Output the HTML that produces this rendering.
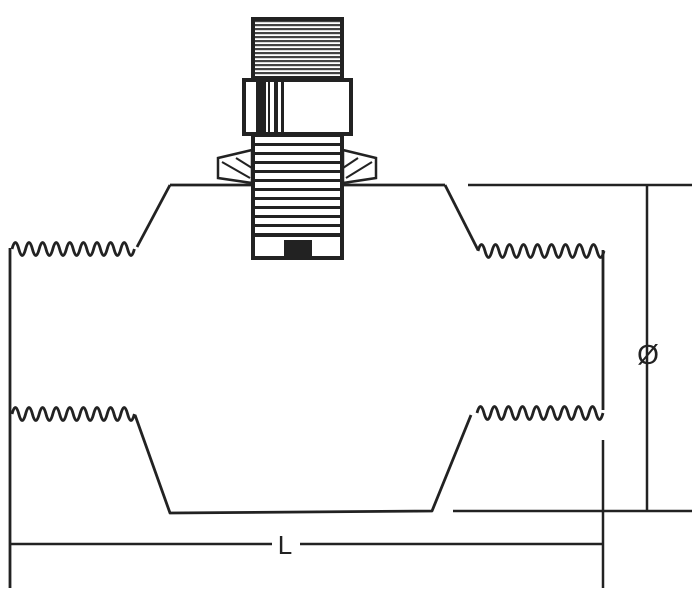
<!DOCTYPE html>
<html><head><meta charset="utf-8"><style>
html,body{margin:0;padding:0;background:#fff;}
svg{display:block;}
</style></head><body>
<svg width="695" height="589" viewBox="0 0 695 589" xmlns="http://www.w3.org/2000/svg">
<defs>
<pattern id="hatch" width="6" height="4" patternUnits="userSpaceOnUse">
<rect width="6" height="4" fill="#fff"/>
<rect y="0" width="6" height="2.2" fill="#444"/>
</pattern>
</defs>
<g fill="none" stroke="#222" stroke-width="2.8" stroke-linejoin="round">
<path d="M170 185 L445 185"/>
<path d="M170 185 L137 247"/>
<path d="M445 185 L478 250"/>
<path d="M12 249 q3.4 -13 6.8 0 t6.8 0 t6.8 0 t6.8 0 t6.8 0 t6.8 0 t6.8 0 t6.8 0 t6.8 0 t6.8 0 t6.8 0 t6.8 0 t6.8 0 t6.8 0 t6.8 0 t6.8 0 t6.8 0 t6.8 0"/>
<path d="M478 251 q3.5 -13 7 0 t7 0 t7 0 t7 0 t7 0 t7 0 t7 0 t7 0 t7 0 t7 0 t7 0 t7 0 t7 0 t7 0 t7 0 t7 0 t7 0 t7 0"/>
<path d="M12 414 q3.4 -13 6.8 0 t6.8 0 t6.8 0 t6.8 0 t6.8 0 t6.8 0 t6.8 0 t6.8 0 t6.8 0 t6.8 0 t6.8 0 t6.8 0 t6.8 0 t6.8 0 t6.8 0 t6.8 0 t6.8 0 t6.8 0"/>
<path d="M477 413 q3.5 -13 7 0 t7 0 t7 0 t7 0 t7 0 t7 0 t7 0 t7 0 t7 0 t7 0 t7 0 t7 0 t7 0 t7 0 t7 0 t7 0 t7 0 t7 0"/>
<path d="M135 415 L170 513 L432 511 L471 415"/>
<path d="M10 248 L10 588"/>
<path d="M603 250 L603 410"/>
</g>
<g stroke="#222" stroke-width="2.5">
<line x1="603" y1="440" x2="603" y2="588"/>
<line x1="468" y1="185" x2="692" y2="185"/>
<line x1="453" y1="511" x2="692" y2="511"/>
<line x1="647" y1="185" x2="647" y2="511"/>
<line x1="10" y1="544" x2="272" y2="544"/>
<line x1="300" y1="544" x2="603" y2="544"/>
</g>
<text x="285" y="554" font-family="Liberation Sans, sans-serif" font-size="26" text-anchor="middle" fill="#222">L</text>
<text x="648" y="364" font-family="Liberation Sans, sans-serif" font-size="28" text-anchor="middle" fill="#222">Ø</text>
<polygon points="218,158 252,150 252,183 218,178" fill="#fff" stroke="#222" stroke-width="2.5"/>
<polygon points="376,158 343,150 343,183 376,178" fill="#fff" stroke="#222" stroke-width="2.5"/>
<g stroke="#222" stroke-width="2">
<line x1="222" y1="162" x2="250" y2="178"/><line x1="236" y1="158" x2="252" y2="168"/>
<line x1="372" y1="162" x2="346" y2="178"/><line x1="358" y1="158" x2="343" y2="168"/>
</g>
<rect x="253" y="19" width="89" height="59" fill="url(#hatch)" stroke="#222" stroke-width="4"/>
<rect x="253" y="135" width="89" height="123" fill="#fff" stroke="#222" stroke-width="4"/>
<g fill="#222">
<rect x="253" y="143" width="89" height="3"/>
<rect x="253" y="152" width="89" height="3"/>
<rect x="253" y="161" width="89" height="3"/>
<rect x="253" y="170" width="89" height="3"/>
<rect x="253" y="179" width="89" height="3"/>
<rect x="253" y="188" width="89" height="3"/>
<rect x="253" y="197" width="89" height="3"/>
<rect x="253" y="206" width="89" height="3"/>
<rect x="253" y="215" width="89" height="3"/>
<rect x="253" y="224" width="89" height="3"/>
<rect x="253" y="233" width="89" height="4"/>
<rect x="284" y="240" width="28" height="18"/>
</g>
<rect x="244" y="80" width="107" height="54" fill="#fff" stroke="#222" stroke-width="4"/>
<g fill="#222">
<rect x="256" y="80" width="10" height="54"/>
<rect x="268" y="80" width="2" height="54"/>
<rect x="274" y="80" width="4" height="54"/>
<rect x="281" y="80" width="3" height="54"/>
</g>
</svg>
</body></html>
